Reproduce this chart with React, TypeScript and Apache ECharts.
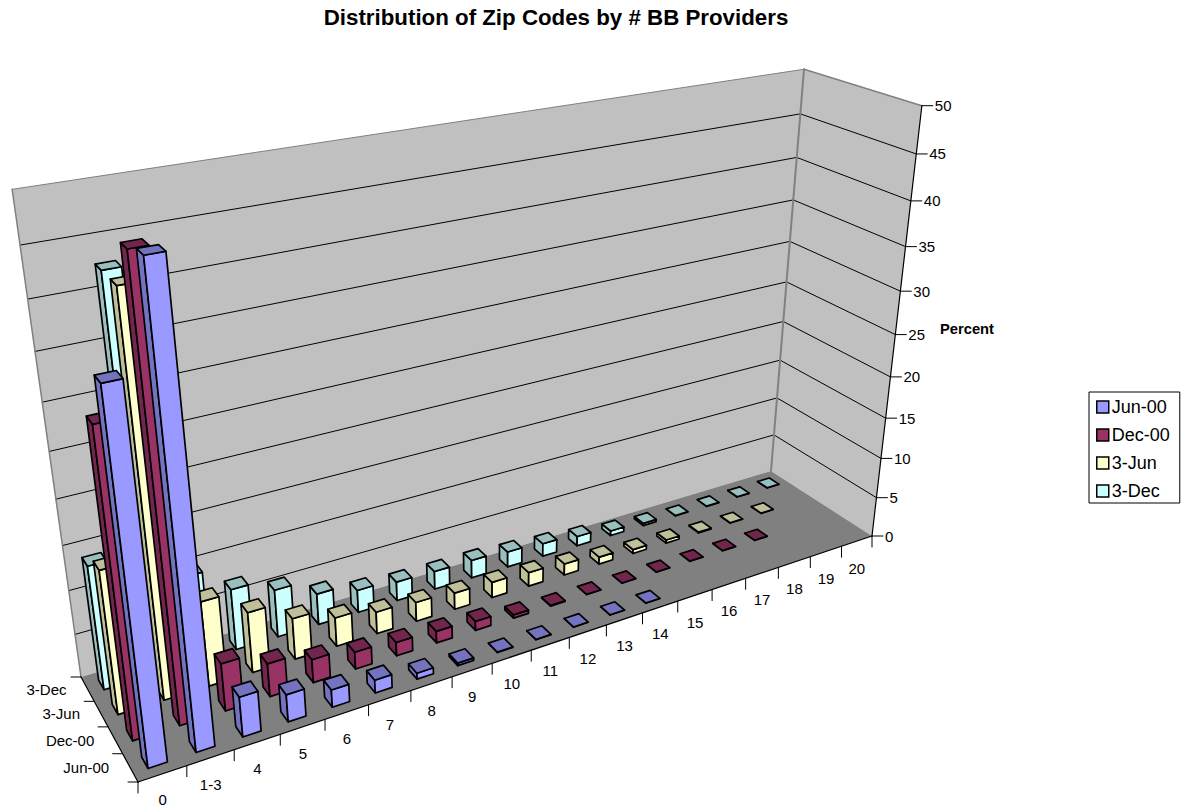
import React, { useEffect, useRef } from "react";
import * as echarts from "echarts";

const categories = ["0", "1-3", "4", "5", "6", "7", "8", "9", "10", "11", "12", "13", "14", "15", "16", "17", "18", "19", "20"];
const seriesNames = ["Jun-00", "Dec-00", "3-Jun", "3-Dec"];
const valueTicks = [0, 5, 10, 15, 20, 25, 30, 35, 40, 45, 50];

const jun00 = [38.3, 48.3, 4.5, 3.1, 2.0, 1.5, 0.7, 0.3, 0.05, 0.03, 0.03, 0.03, 0.02, null, null, null, null, null, null];
const dec00 = [32.7, 47.4, 5.4, 3.8, 2.7, 2.0, 1.6, 1.4, 1.1, 0.4, 0.1, 0.03, 0.03, 0.02, 0.02, 0.02, 0.02, null, null];
const jun03 = [16, 42.7, 9.7, 7, 4.8, 3.4, 2.6, 2.3, 2, 1.9, 1.7, 1.4, 0.9, 0.5, 0.4, 0.1, 0.03, 0.03, null];
const dec03 = [14, 42.6, 10, 7.1, 5.6, 3.7, 2.7, 2.3, 2.2, 2.2, 1.9, 1.6, 1.2, 0.6, 0.3, 0.05, 0.03, 0.03, 0.03];

const seriesValues = [jun00, dec00, jun03, dec03];
const faceColors = ["#9999FF", "#993366", "#FFFFCC", "#CCFFFF"];
const shadeColors = ["#7373BF", "#73264D", "#BFBF99", "#99BFBF"];

const BAR_GAP = 0.3;
const Z_MAX = 50;

// Screen anchors of the 3D box: floor corners and top corners of the walls.
const floorFrontLeft = [138, 782];
const floorFrontRight = [872, 536];
const floorBackRight = [771, 471];
const floorBackLeft = [81, 677];
const topBackLeft = [12, 188];
const topBackRight = [804, 70];
const topFrontRight = [922, 106];

function solve(A: number[][], b: number[]): number[] {
  const n = b.length;
  const M = A.map((r, i) => [...r, b[i]]);
  for (let c = 0; c < n; c++) {
    let p = c;
    for (let r = c + 1; r < n; r++) if (Math.abs(M[r][c]) > Math.abs(M[p][c])) p = r;
    [M[c], M[p]] = [M[p], M[c]];
    for (let r = 0; r < n; r++) {
      if (r === c) continue;
      const f = M[r][c] / M[c][c];
      for (let k = c; k <= n; k++) M[r][k] -= f * M[c][k];
    }
  }
  return M.map((r, i) => r[n] / r[i]);
}

// Builds a perspective camera (3x4 matrix) from the box anchors.
function buildCamera() {
  const nx = categories.length;
  const ny = seriesNames.length;
  const floor: [number, number, number[]][] = [
    [0, 0, floorFrontLeft],
    [nx, 0, floorFrontRight],
    [nx, ny, floorBackRight],
    [0, ny, floorBackLeft],
  ];
  const A: number[][] = [];
  const b: number[] = [];
  floor.forEach(([x, y, [u, v]]) => {
    A.push([x, y, 1, 0, 0, 0, -u * x, -u * y]);
    b.push(u);
    A.push([0, 0, 0, x, y, 1, -v * x, -v * y]);
    b.push(v);
  });
  const h = solve(A, b);
  const hRow = (x: number, y: number) => [
    h[0] * x + h[1] * y + h[2],
    h[3] * x + h[4] * y + h[5],
    h[6] * x + h[7] * y + 1,
  ];
  const tops: [number, number, number[]][] = [
    [0, ny, topBackLeft],
    [nx, ny, topBackRight],
    [nx, 0, topFrontRight],
  ];
  const ata = [[0, 0, 0], [0, 0, 0], [0, 0, 0]];
  const atb = [0, 0, 0];
  const addEq = (row: number[], rhs: number) => {
    for (let i = 0; i < 3; i++) {
      atb[i] += row[i] * rhs;
      for (let j = 0; j < 3; j++) ata[i][j] += row[i] * row[j];
    }
  };
  tops.forEach(([x, y, [u, v]]) => {
    const [hx, hy, hw] = hRow(x, y);
    addEq([Z_MAX, 0, -u * Z_MAX], u * hw - hx);
    addEq([0, Z_MAX, -v * Z_MAX], v * hw - hy);
  });
  const pz = solve(ata, atb);
  return (x: number, y: number, z: number): number[] => {
    const [hx, hy, hw] = hRow(x, y);
    const w = hw + z * pz[2];
    return [(hx + z * pz[0]) / w, (hy + z * pz[1]) / w];
  };
}

const project = buildCamera();

function frameElements() {
  const nx = categories.length;
  const ny = seriesNames.length;
  const font = "15px 'Liberation Sans', Arial, sans-serif";
  const els: any[] = [];
  const poly = (pts: number[][], fill: string) =>
    els.push({ type: "polygon", silent: true, shape: { points: pts }, style: { fill, stroke: "none" } });
  const seg = (a: number[], b: number[], stroke: string, lineWidth: number) =>
    els.push({
      type: "line",
      silent: true,
      shape: { x1: a[0], y1: a[1], x2: b[0], y2: b[1] },
      style: { stroke, lineWidth, lineCap: "round" },
    });
  const label = (x: number, y: number, text: string, align: string) =>
    els.push({
      type: "text",
      silent: true,
      style: { x, y, text, fill: "#000", font, align, verticalAlign: "middle" },
    });

  poly([project(0, ny, 0), project(0, ny, Z_MAX), project(nx, ny, Z_MAX), project(nx, ny, 0)], "#C0C0C0");
  poly([project(nx, ny, 0), project(nx, ny, Z_MAX), project(nx, 0, Z_MAX), project(nx, 0, 0)], "#C0C0C0");
  poly([project(0, 0, 0), project(nx, 0, 0), project(nx, ny, 0), project(0, ny, 0)], "#808080");

  valueTicks.forEach((t) => {
    if (t > 0 && t < Z_MAX) {
      seg(project(0, ny, t), project(nx, ny, t), "#000", 1);
      seg(project(nx, ny, t), project(nx, 0, t), "#000", 1);
    }
  });

  seg(project(0, ny, 0), project(0, ny, Z_MAX), "#808080", 1.5);
  seg(project(0, ny, Z_MAX), project(nx, ny, Z_MAX), "#808080", 1);
  seg(project(nx, ny, 0), project(nx, ny, Z_MAX), "#808080", 2);
  seg(project(nx, ny, Z_MAX), project(nx, 0, Z_MAX), "#808080", 1.5);

  seg(project(0, 0, 0), project(nx, 0, 0), "#000", 1.2);
  seg(project(0, 0, 0), project(0, ny, 0), "#000", 1.2);
  seg(project(nx, 0, 0), project(nx, 0, Z_MAX), "#000", 1.2);

  valueTicks.forEach((t) => {
    const p = project(nx, 0, t);
    seg(p, [p[0] + 11, p[1]], "#000", 1);
    label(p[0] + 13, p[1], String(t), "left");
  });
  categories.forEach((name, i) => {
    const p = project(i, 0, 0);
    seg(p, [p[0], p[1] + 11], "#000", 1);
    const c = project(i + 0.5, 0, 0);
    label(c[0], Math.min(c[1] + 27, 799), name, "center");
  });
  {
    const p = project(nx, 0, 0);
    seg(p, [p[0], p[1] + 11], "#000", 1);
  }
  seriesNames.forEach((name, j) => {
    const p = project(0, j, 0);
    seg(p, [p[0] - 10, p[1]], "#000", 1);
    const c = project(0, j + 0.5, 0);
    label(c[0] - 21, c[1], name, "right");
  });
  {
    const p = project(0, ny, 0);
    seg(p, [p[0] - 10, p[1]], "#000", 1);
  }
  els.push({
    type: "text",
    silent: true,
    style: {
      x: 967,
      y: 329,
      text: "Percent",
      fill: "#000",
      font: "bold 14.7px 'Liberation Sans', Arial, sans-serif",
      align: "center",
      verticalAlign: "middle",
    },
  });
  return els;
}

function barSeries(j: number) {
  const data = seriesValues[j]
    .map((v, i) => [i, v])
    .filter((d) => d[1] !== null)
    .reverse();
  return {
    type: "custom",
    name: seriesNames[j],
    coordinateSystem: "none",
    silent: true,
    z: 10 + (seriesNames.length - j),
    itemStyle: { color: faceColors[j] },
    data,
    renderItem: (_p: any, api: any) => {
      const i = api.value(0);
      const v = api.value(1);
      const x0 = i + BAR_GAP;
      const x1 = i + 1 - BAR_GAP;
      const y0 = j + BAR_GAP;
      const y1 = j + 1 - BAR_GAP;
      const stroke = { stroke: "#000", lineWidth: 1.7, lineJoin: "round" };
      const face = (pts: number[][], fill: string) => ({
        type: "polygon",
        shape: { points: pts },
        style: { fill, ...stroke },
      });
      return {
        type: "group",
        children: [
          face([project(x0, y0, 0), project(x0, y1, 0), project(x0, y1, v), project(x0, y0, v)], shadeColors[j]),
          face([project(x0, y0, 0), project(x1, y0, 0), project(x1, y0, v), project(x0, y0, v)], faceColors[j]),
          face([project(x0, y0, v), project(x1, y0, v), project(x1, y1, v), project(x0, y1, v)], shadeColors[j]),
        ],
      };
    },
  };
}

export default function App() {
  const ref = useRef<HTMLDivElement>(null);
  useEffect(() => {
    const chart = echarts.init(ref.current!, undefined, { renderer: "svg" });
    chart.setOption({
      animation: false,
      backgroundColor: "#fff",
      title: {
        text: "Distribution of Zip Codes by # BB Providers",
        left: 551,
        top: 1.5,
        textAlign: "center",
        textStyle: {
          fontFamily: "'Liberation Sans', Arial, sans-serif",
          fontWeight: "bold",
          fontSize: 22.3,
          color: "#000",
        },
      },
      legend: {
        left: 1089,
        top: 392,
        orient: "vertical",
        padding: [6, 10, 3, 7],
        itemWidth: 12,
        itemHeight: 12,
        itemGap: 10,
        borderColor: "#000",
        borderWidth: 1,
        selectedMode: false,
        textStyle: {
          fontFamily: "'Liberation Sans', Arial, sans-serif",
          fontSize: 18,
          color: "#000",
          padding: [0, 0, 0, -2],
        },
        data: seriesNames.map((name, j) => ({
          name,
          icon: "rect",
          itemStyle: { color: faceColors[j], borderColor: "#000", borderWidth: 1.5 },
        })),
      },
      graphic: { elements: frameElements() },
      series: [3, 2, 1, 0].map(barSeries),
    });
    return () => chart.dispose();
  }, []);
  return <div ref={ref} style={{ position: "absolute", left: 0, top: 0, width: 1183, height: 807 }} />;
}
